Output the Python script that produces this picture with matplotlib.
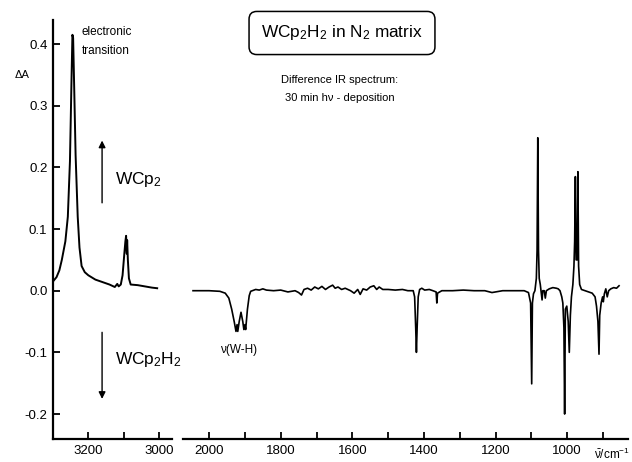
"""Difference IR spectrum of WCp2H2 in an N2 matrix (30 min hv - deposition)."""
import matplotlib
matplotlib.use("Agg")
import matplotlib.pyplot as plt
import numpy as np

plt.rcParams.update({
    "font.family": ["Liberation Sans", "DejaVu Sans"],
    "mathtext.default": "regular",
    "axes.unicode_minus": False,
    "axes.linewidth": 1.6,
})

# ── Data ──────────────────────────────────────────────────────────────────────
# high-wavenumber window (electronic transition + C-H region)
HIGH_WN = [3300, 3290, 3282, 3275, 3265, 3258, 3252, 3248, 3245, 3243,
           3240, 3236, 3230, 3225, 3219, 3210, 3200, 3180, 3160, 3140,
           3125, 3118, 3114, 3108, 3103, 3098, 3095, 3093, 3091, 3090,
           3088, 3085, 3080, 3060, 3040, 3020, 3005]
HIGH_DA = [0.015, 0.022, 0.033, 0.050, 0.080, 0.120, 0.210, 0.330, 0.415, 0.410,
           0.330, 0.220, 0.120, 0.070, 0.040, 0.030, 0.025, 0.018, 0.014, 0.010,
           0.006, 0.011, 0.007, 0.010, 0.025, 0.060, 0.080, 0.089, 0.060, 0.082,
           0.050, 0.020, 0.010, 0.009, 0.007, 0.005, 0.004]

# low-wavenumber window (2045 - 855 cm-1)
LOW_WN = [2045, 2000, 1970, 1955, 1945, 1937, 1930, 1925, 1922, 1920,
          1916, 1911, 1906, 1903, 1900, 1898, 1893, 1888, 1884, 1870,
          1860, 1850, 1840, 1820, 1800, 1780, 1760, 1750, 1742, 1735,
          1725, 1715, 1705, 1695, 1685, 1675, 1665, 1655, 1648, 1640,
          1630, 1620, 1605, 1595, 1585, 1578, 1570, 1560, 1550, 1540,
          1532, 1525, 1515, 1500, 1480, 1460, 1445, 1430, 1426, 1423,
          1421, 1419, 1416, 1412, 1406, 1398, 1385, 1375, 1366, 1364,
          1362, 1350, 1320, 1290, 1260, 1230, 1210, 1200, 1180, 1150,
          1120, 1108, 1102, 1099, 1097, 1094, 1090, 1086, 1084, 1082,
          1080, 1078, 1075, 1072, 1070, 1068, 1064, 1061, 1058, 1050,
          1040, 1030, 1025, 1020, 1015, 1012, 1009, 1007, 1005, 1001,
          997, 994, 991, 988, 984, 981, 979, 977, 975, 972,
          970, 968, 965, 960, 950, 940, 930, 922, 918, 914,
          911, 909, 905, 901, 899, 896, 892, 888, 884, 878,
          870, 862, 855]
LOW_DA = [0.000, 0.000, -0.001, -0.004, -0.012, -0.030, -0.050, -0.066, -0.055, -0.066,
          -0.050, -0.035, -0.050, -0.063, -0.055, -0.063, -0.030, -0.008, -0.001, 0.002,
          0.001, 0.003, 0.001, 0.000, 0.001, -0.002, 0.000, -0.003, -0.007, 0.002,
          0.004, 0.001, 0.006, 0.003, 0.007, 0.002, 0.006, 0.009, 0.004, 0.006,
          0.002, 0.004, 0.000, -0.004, 0.002, -0.006, 0.003, 0.001, 0.006, 0.008,
          0.002, 0.006, 0.002, 0.002, 0.001, 0.002, 0.000, 0.000, -0.010, -0.060,
          -0.100, -0.060, -0.010, 0.002, 0.004, 0.001, 0.002, 0.000, -0.002, -0.020,
          -0.004, 0.000, 0.000, 0.001, 0.000, 0.000, -0.003, -0.002, 0.000, 0.000,
          0.000, -0.003, -0.020, -0.151, -0.020, -0.005, 0.000, 0.020, 0.065, 0.248,
          0.065, 0.020, 0.010, -0.005, -0.015, 0.000, 0.000, -0.012, 0.000, 0.003,
          0.005, 0.004, 0.003, 0.000, -0.010, -0.020, -0.060, -0.200, -0.030, -0.025,
          -0.050, -0.100, -0.040, -0.010, 0.010, 0.040, 0.080, 0.185, 0.050, 0.050,
          0.193, 0.040, 0.010, 0.002, 0.000, -0.002, -0.004, -0.010, -0.025, -0.050,
          -0.103, -0.040, -0.020, -0.010, -0.018, -0.005, 0.003, -0.010, 0.000, 0.003,
          0.005, 0.004, 0.008]

Y_TICKS = [-0.2, -0.1, 0.0, 0.1, 0.2, 0.3, 0.4]
HIGH_TICKS = [3200, 3100, 3000]
HIGH_LABELS = ["3200", "", "3000"]
LOW_TICKS = [2000, 1900, 1800, 1700, 1600, 1500, 1400, 1300, 1200, 1100, 1000, 900]
LOW_LABELS = ["2000", "", "1800", "", "1600", "", "1400", "", "1200", "", "1000", ""]

# ── Figure ────────────────────────────────────────────────────────────────────
W, H = 632, 462
fig = plt.figure(figsize=(W / 100, H / 100), dpi=100)
ax1 = fig.add_axes([53 / W, 1 - 439 / H, (172 - 53) / W, (439 - 20) / H])
ax2 = fig.add_axes([183 / W, 1 - 439 / H, (628 - 183) / W, (439 - 20) / H])

for ax in (ax1, ax2):
    ax.set_ylim(-0.2405, 0.439)
    ax.spines["top"].set_visible(False)
    ax.spines["right"].set_visible(False)
    ax.tick_params(direction="in", length=5, width=1.3, labelsize=9.5, pad=4)

ax1.plot(HIGH_WN, HIGH_DA, color="black", lw=1.4)
ax1.set_xlim(3300, 2963)
ax1.set_xticks(HIGH_TICKS)
ax1.set_xticklabels(HIGH_LABELS)
ax1.set_yticks(Y_TICKS)
ax1.set_yticklabels([f"{v:.1f}" for v in Y_TICKS])

ax2.plot(LOW_WN, LOW_DA, color="black", lw=1.2)
ax2.set_xlim(2073, 830)
ax2.set_xticks(LOW_TICKS)
ax2.set_xticklabels(LOW_LABELS)
ax2.spines["left"].set_visible(False)
ax2.set_yticks([])

# annotations in the left panel
ax1.text(3218, 0.42, "electronic", fontsize=8.5, va="center", ha="left")
ax1.text(3218, 0.388, "transition", fontsize=8.5, va="center", ha="left")
ax1.annotate("", xy=(3161, 0.248), xytext=(3161, 0.138),
             arrowprops=dict(arrowstyle="-|>", color="black", lw=1.0,
                             mutation_scale=10))
ax1.annotate("", xy=(3161, -0.18), xytext=(3161, -0.063),
             arrowprops=dict(arrowstyle="-|>", color="black", lw=1.0,
                             mutation_scale=10))
ax1.text(3125, 0.18, "WCp$_2$", fontsize=12.5, va="center", ha="left")
ax1.text(3125, -0.112, "WCp$_2$H$_2$", fontsize=12.5, va="center", ha="left")

ax2.text(1919, -0.096, "ν(W-H)", fontsize=8.5, ha="center", va="center")

fig.text(22 / W, 1 - 75 / H, "ΔA", fontsize=8, ha="center", va="center")
fig.text(342 / W, 1 - 33 / H, "WCp$_2$H$_2$ in N$_2$ matrix", fontsize=12.4,
         ha="center", va="center",
         bbox=dict(boxstyle="round,pad=0.7,rounding_size=0.45", fc="white",
                   ec="black", lw=1.1))
fig.text(340 / W, 1 - 80 / H, "Difference IR spectrum:", fontsize=8,
         ha="center", va="center")
fig.text(340 / W, 1 - 98 / H, "30 min hν - deposition", fontsize=8,
         ha="center", va="center")
fig.text(612 / W, 1 - 454 / H, r"$\bar{\nu}$/cm$^{-1}$", fontsize=8.5,
         ha="center", va="center")

fig.savefig("out.png", dpi=100)
